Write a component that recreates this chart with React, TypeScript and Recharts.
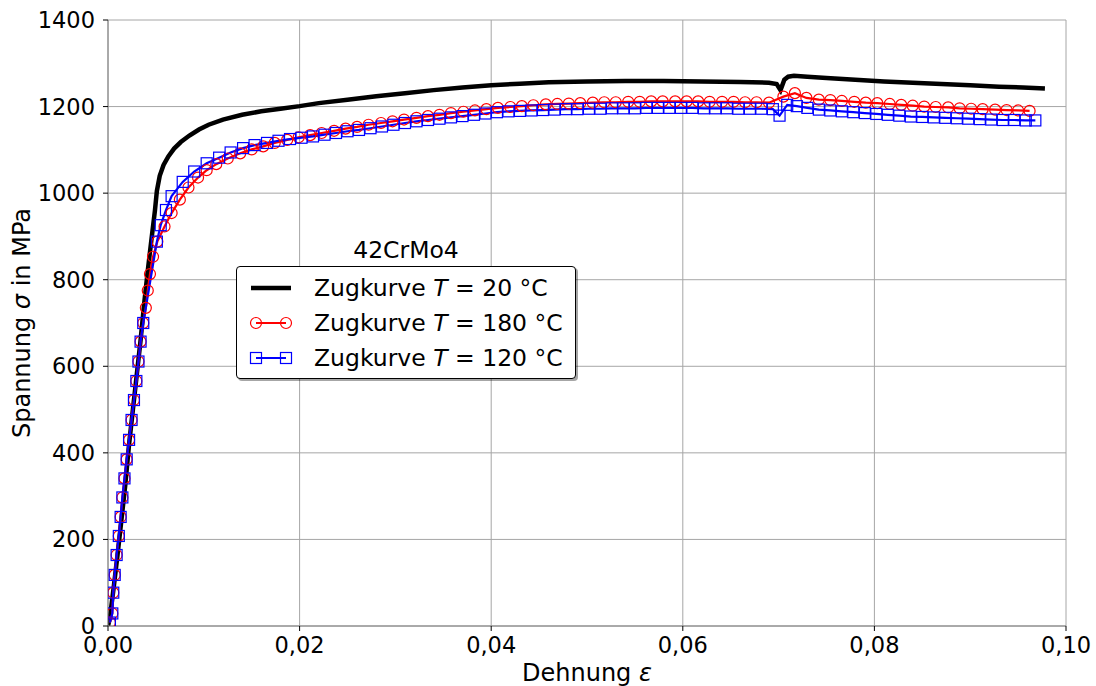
import { CartesianGrid, Legend, Line, LineChart, XAxis, YAxis } from 'recharts'

const strainTicks = [0, 0.02, 0.04, 0.06, 0.08, 0.1]
const stressTicks = [0, 200, 400, 600, 800, 1000, 1200, 1400]

// [strain, stress in MPa]
const curve20: [number, number][] = [
  [0, 0], [0.0002, 20], [0.0006, 90], [0.001, 165], [0.0014, 245], [0.0018, 325],
  [0.0022, 420], [0.0026, 500], [0.003, 580], [0.0034, 660], [0.0038, 750],
  [0.0042, 830], [0.0046, 905], [0.0049, 960], [0.0051, 1005], [0.0054, 1040],
  [0.0058, 1065], [0.0063, 1085], [0.0069, 1103], [0.0076, 1118], [0.0085, 1133],
  [0.0095, 1147], [0.0105, 1158], [0.012, 1170], [0.014, 1181], [0.016, 1189],
  [0.018, 1195], [0.02, 1201], [0.022, 1208], [0.025, 1216], [0.028, 1224],
  [0.031, 1231], [0.034, 1238], [0.037, 1244], [0.04, 1249], [0.043, 1253],
  [0.046, 1256], [0.05, 1258], [0.054, 1259], [0.058, 1259], [0.062, 1258],
  [0.066, 1257], [0.069, 1255], [0.0698, 1252], [0.0702, 1238], [0.0706, 1262],
  [0.071, 1269], [0.0716, 1271], [0.073, 1269], [0.075, 1266], [0.078, 1262],
  [0.081, 1258], [0.084, 1255], [0.087, 1252], [0.09, 1249], [0.093, 1246],
  [0.0955, 1244], [0.0978, 1242],
]

const curve180: [number, number][] = [
  [0.0002, 8], [0.00045, 29], [0.00055, 77], [0.0007, 118], [0.0009, 164],
  [0.00113, 208], [0.00132, 252], [0.0015, 297], [0.00172, 341], [0.00195, 385],
  [0.0022, 430], [0.00246, 476], [0.00271, 522], [0.00296, 566], [0.00318, 611],
  [0.0034, 657], [0.00368, 700], [0.00395, 735], [0.00415, 775], [0.00438, 813],
  [0.0047, 853], [0.00515, 888], [0.0059, 923], [0.00664, 954], [0.0075, 985],
  [0.0084, 1013], [0.0094, 1036], [0.0103, 1053], [0.0113, 1067], [0.0125, 1080],
  [0.0138, 1092], [0.015, 1101], [0.0162, 1108], [0.0174, 1116], [0.0187, 1123],
  [0.0199, 1129], [0.0211, 1134], [0.0223, 1139], [0.0236, 1144], [0.0248, 1149],
  [0.026, 1153], [0.0272, 1158], [0.0285, 1162], [0.0297, 1166], [0.0309, 1170],
  [0.0322, 1174], [0.0334, 1178], [0.0346, 1181], [0.0358, 1185], [0.0371, 1188],
  [0.0383, 1191], [0.0395, 1194], [0.0407, 1197], [0.042, 1199], [0.0432, 1201],
  [0.0444, 1203], [0.0457, 1205], [0.0469, 1206], [0.0481, 1207], [0.0493, 1208],
  [0.0506, 1209], [0.0518, 1210], [0.053, 1210], [0.0543, 1211], [0.0555, 1211],
  [0.0567, 1212], [0.0579, 1212], [0.0592, 1212], [0.0604, 1212], [0.0616, 1212],
  [0.0628, 1211], [0.0641, 1211], [0.0653, 1211], [0.0665, 1210], [0.0677, 1210],
  [0.069, 1209], [0.0705, 1223], [0.0717, 1231], [0.0729, 1220], [0.0742, 1216],
  [0.0754, 1215], [0.0766, 1213], [0.0779, 1211], [0.0791, 1209], [0.0803, 1208],
  [0.0816, 1206], [0.0828, 1204], [0.084, 1202], [0.0852, 1200], [0.0864, 1199],
  [0.0877, 1198], [0.0889, 1196], [0.0901, 1195], [0.0913, 1194], [0.0926, 1193],
  [0.0938, 1192], [0.095, 1191], [0.0962, 1190],
]

const curve120: [number, number][] = [
  [0.0002, 8], [0.00045, 29], [0.00055, 77], [0.0007, 118], [0.0009, 164],
  [0.00113, 208], [0.00132, 252], [0.0015, 297], [0.00172, 341], [0.00195, 385],
  [0.0022, 430], [0.00246, 476], [0.00271, 522], [0.00296, 566], [0.00318, 611],
  [0.0034, 657], [0.00368, 700], [0.0051, 888], [0.0055, 926], [0.00605, 961],
  [0.00664, 993], [0.0078, 1026], [0.009, 1050], [0.0103, 1069], [0.0116, 1082],
  [0.0128, 1094], [0.0141, 1104], [0.0153, 1111], [0.0166, 1116], [0.0178, 1121],
  [0.019, 1125], [0.0202, 1128], [0.0214, 1131], [0.0226, 1135], [0.0238, 1139],
  [0.025, 1143], [0.0262, 1146], [0.0274, 1150], [0.0286, 1154], [0.0298, 1158],
  [0.031, 1162], [0.0322, 1166], [0.0334, 1169], [0.0346, 1172], [0.0358, 1175],
  [0.037, 1178], [0.0382, 1181], [0.0394, 1184], [0.0406, 1187], [0.0418, 1189],
  [0.043, 1190], [0.0442, 1191], [0.0454, 1192], [0.0466, 1193], [0.0478, 1194],
  [0.049, 1194], [0.0502, 1195], [0.0514, 1195], [0.0526, 1196], [0.0538, 1196],
  [0.055, 1196], [0.0562, 1197], [0.0574, 1197], [0.0586, 1197], [0.0598, 1197],
  [0.061, 1197], [0.0622, 1196], [0.0634, 1196], [0.0646, 1196], [0.0658, 1195],
  [0.067, 1195], [0.0682, 1195], [0.0694, 1194], [0.0701, 1179], [0.0709, 1204],
  [0.0719, 1201], [0.073, 1197], [0.0742, 1193], [0.0754, 1191], [0.0766, 1189],
  [0.0778, 1187], [0.079, 1185], [0.0802, 1183], [0.0814, 1181], [0.0826, 1179],
  [0.0838, 1177], [0.085, 1176], [0.0862, 1175], [0.0874, 1174], [0.0886, 1173],
  [0.0898, 1172], [0.091, 1171], [0.0922, 1170], [0.0934, 1169], [0.0946, 1169],
  [0.0958, 1168], [0.0968, 1168],
]

const FONT = '"DejaVu Sans", sans-serif'
const RED = '#ff0000'
const BLUE = '#0000ff'

const toRows = (points: [number, number][]) => points.map(([e, s]) => ({ e, s }))

const formatStrain = (v: number) => v.toFixed(2).replace('.', ',')

function CircleDot(props: any) {
  const { cx, cy, index } = props
  if (cx == null || cy == null) return <g key={index} />
  return <circle key={index} cx={cx} cy={cy} r={5.5} fill="none" stroke={RED} strokeWidth={1.2} />
}

function SquareDot(props: any) {
  const { cx, cy, index } = props
  if (cx == null || cy == null) return <g key={index} />
  return (
    <rect key={index} x={cx - 5.5} y={cy - 5.5} width={11} height={11}
      fill="none" stroke={BLUE} strokeWidth={1.2} />
  )
}

function Swatch({ kind }: { kind: 'black' | 'red' | 'blue' }) {
  return (
    <svg width={44} height={14} style={{ display: 'block' }}>
      {kind === 'black' && <line x1={2} x2={42} y1={7} y2={7} stroke="#000" strokeWidth={4.5} />}
      {kind === 'red' && (
        <g>
          <line x1={7} x2={37} y1={7} y2={7} stroke={RED} strokeWidth={2} />
          <circle cx={7} cy={7} r={5.5} fill="none" stroke={RED} strokeWidth={1.2} />
          <circle cx={37} cy={7} r={5.5} fill="none" stroke={RED} strokeWidth={1.2} />
        </g>
      )}
      {kind === 'blue' && (
        <g>
          <line x1={7} x2={37} y1={7} y2={7} stroke={BLUE} strokeWidth={2} />
          <rect x={1.5} y={1.5} width={11} height={11} fill="none" stroke={BLUE} strokeWidth={1.2} />
          <rect x={31.5} y={1.5} width={11} height={11} fill="none" stroke={BLUE} strokeWidth={1.2} />
        </g>
      )}
    </svg>
  )
}

const legendRows: { kind: 'black' | 'red' | 'blue'; temp: string }[] = [
  { kind: 'black', temp: '20' },
  { kind: 'red', temp: '180' },
  { kind: 'blue', temp: '120' },
]

function CurveLegend() {
  return (
    <div style={{ width: 340, fontFamily: FONT, fontSize: 23.5, color: '#000' }}>
      <div style={{ textAlign: 'center', height: 32, lineHeight: '32px' }}>42CrMo4</div>
      <div
        style={{
          position: 'relative',
          height: 113,
          boxSizing: 'border-box',
          border: '1px solid #000',
          borderRadius: 4,
          background: '#fff',
          boxShadow: '2px 2px 0 rgba(0,0,0,0.35)',
          paddingTop: 3,
        }}
      >
        {legendRows.map((row) => (
          <div key={row.kind} style={{ display: 'flex', alignItems: 'center', height: 35 }}>
            <div style={{ marginLeft: 12, marginRight: 21 }}>
              <Swatch kind={row.kind} />
            </div>
            <span style={{ whiteSpace: 'nowrap' }}>
              Zugkurve <i>T</i> = {row.temp} °C
            </span>
          </div>
        ))}
      </div>
    </div>
  )
}

const tickStyle = { fill: '#000', fontSize: 22.5, fontFamily: FONT }

export default function App() {
  return (
    <div style={{ position: 'absolute', left: 0, top: 0, width: 1096, height: 686, background: '#fff', fontFamily: FONT }}>
      <LineChart width={1096} height={686} margin={{ top: 20, right: 30, bottom: 30, left: 0 }}>
        <CartesianGrid stroke="#a6a6a6" strokeWidth={1} />
        <XAxis
          dataKey="e"
          type="number"
          domain={[0, 0.1]}
          ticks={strainTicks}
          tickFormatter={formatStrain}
          allowDataOverflow
          height={30}
          tickSize={5}
          tickMargin={6}
          tick={tickStyle}
          axisLine={{ stroke: '#808080' }}
          tickLine={{ stroke: '#000' }}
        />
        <XAxis
          xAxisId="top"
          orientation="top"
          type="number"
          domain={[0, 0.1]}
          ticks={strainTicks}
          height={0}
          tickSize={5}
          tick={false}
          axisLine={{ stroke: '#808080' }}
          tickLine={{ stroke: '#000' }}
        />
        <YAxis
          type="number"
          domain={[0, 1400]}
          ticks={stressTicks}
          allowDataOverflow
          width={108}
          tickSize={5}
          tickMargin={8}
          tick={tickStyle}
          axisLine={{ stroke: '#808080' }}
          tickLine={{ stroke: '#000' }}
        />
        <YAxis
          yAxisId="right"
          orientation="right"
          type="number"
          domain={[0, 1400]}
          ticks={stressTicks}
          width={0}
          tickSize={5}
          tick={false}
          axisLine={{ stroke: '#808080' }}
          tickLine={{ stroke: '#000' }}
        />
        <Line
          data={toRows(curve20)}
          dataKey="s"
          name="Zugkurve T = 20 °C"
          stroke="#000"
          strokeWidth={4.5}
          dot={false}
          activeDot={false}
          type="linear"
          isAnimationActive={false}
        />
        <Line
          data={toRows(curve180)}
          dataKey="s"
          name="Zugkurve T = 180 °C"
          stroke={RED}
          strokeWidth={2.2}
          dot={CircleDot}
          activeDot={false}
          type="linear"
          isAnimationActive={false}
        />
        <Line
          data={toRows(curve120)}
          dataKey="s"
          name="Zugkurve T = 120 °C"
          stroke={BLUE}
          strokeWidth={2.2}
          dot={SquareDot}
          activeDot={false}
          type="linear"
          isAnimationActive={false}
        />
        <Legend
          layout="horizontal"
          verticalAlign="middle"
          align="center"
          content={() => <CurveLegend />}
          wrapperStyle={{ left: 236, top: 234, width: 340, height: 147 }}
        />
      </LineChart>
      <div
        style={{
          position: 'absolute',
          left: 587,
          top: 673,
          transform: 'translate(-50%, -50%)',
          fontSize: 24,
          whiteSpace: 'nowrap',
        }}
      >
        Dehnung <i>ε</i>
      </div>
      <div
        style={{
          position: 'absolute',
          left: 22,
          top: 323,
          transform: 'translate(-50%, -50%) rotate(-90deg)',
          fontSize: 24,
          whiteSpace: 'nowrap',
        }}
      >
        Spannung <i>σ</i> in MPa
      </div>
    </div>
  )
}
